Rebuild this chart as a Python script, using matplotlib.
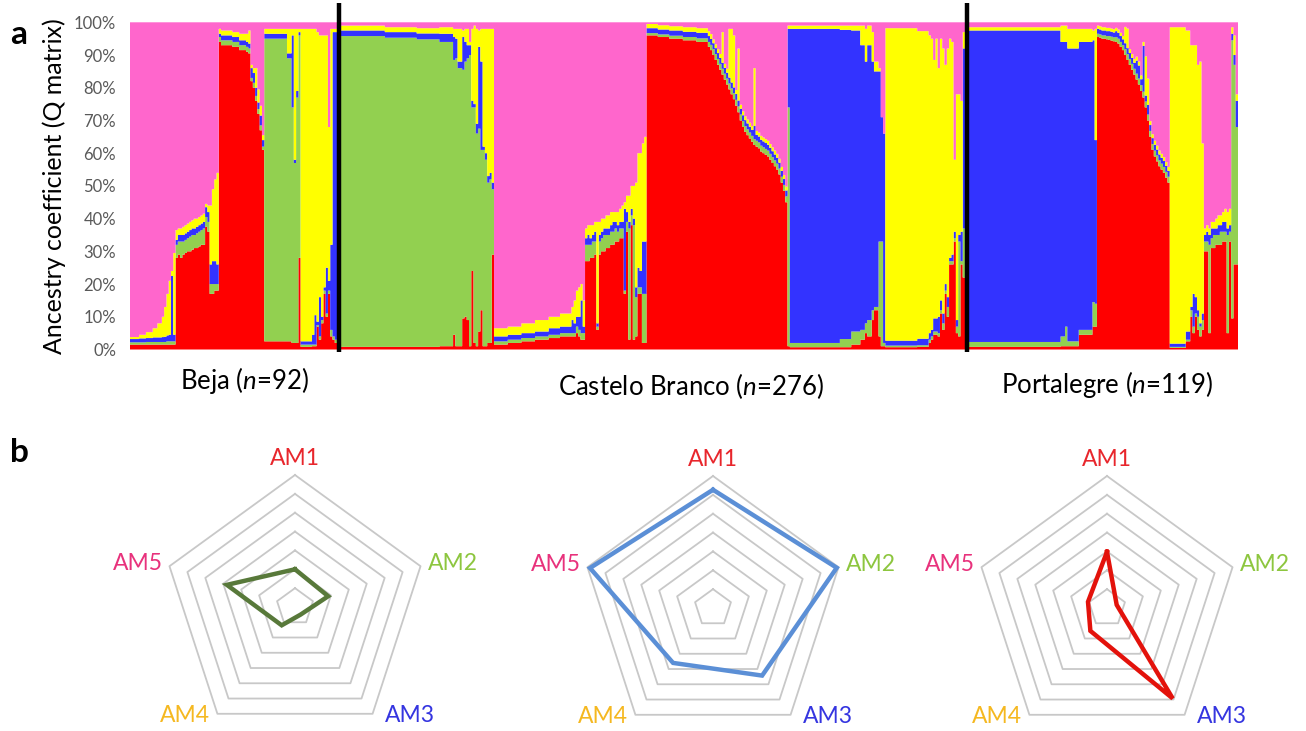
import numpy as np
import matplotlib.pyplot as plt

plt.rcParams['font.family'] = ['Lato', 'DejaVu Sans']
plt.rcParams['mathtext.fontset'] = 'custom'
plt.rcParams['mathtext.rm'] = 'Lato'
plt.rcParams['mathtext.it'] = 'Lato:italic'

# ancestry runs per population: (count, AM1, AM2, AM3, AM4) in %, AM5 = the rest
beja = [
    (4, 1.5, 0.7, 1.0, 0.6), (3, 1.5, 0.7, 1.2, 1.1), (3, 1.5, 0.8, 1.2, 1.8),
    (2, 1.5, 0.8, 1.4, 2.8), (2, 1.5, 0.8, 1.4, 4.3), (1, 1.5, 0.8, 1.5, 6.2),
    (1, 1.5, 0.8, 1.6, 9.1), (1, 1.5, 1.0, 1.8, 12.7), (1, 1.5, 1.0, 2.0, 16.5),
    (1, 1.5, 1.0, 20.0, 1.5), (1, 1.5, 1.0, 2.0, 25.0),
    (1, 28, 4, 1.5, 3), (1, 29, 4, 2, 2), (1, 28, 5, 2, 2), (1, 29, 4, 2, 2.5),
    (1, 29.5, 4, 2, 2.5), (1, 30, 4, 2, 2.5), (1, 30, 4.5, 2, 2.5), (1, 30.5, 4.5, 2, 2.5),
    (1, 31, 4, 2, 3), (1, 31, 4.5, 2, 2.5), (1, 31.5, 4.5, 2, 2.5), (1, 32, 4.5, 2, 2.5),
    (1, 32, 5, 2, 2.5), (1, 37.5, 3, 3, 1), (1, 36, 3, 3, 2),
    (1, 17, 3, 6, 18), (1, 17, 3, 7, 22), (1, 18, 2, 7, 25), (1, 18, 2, 6, 28),
    (1, 94, 1.5, 1, 1.5), (5, 93, 1.5, 1.5, 1.5), (3, 92.5, 1.5, 1.5, 1.5),
    (3, 91.5, 1.5, 1.5, 2), (1, 91, 1.5, 1.5, 2.5), (1, 90.5, 1.5, 1.5, 4),
    (1, 82, 1, 3, 1), (1, 80, 1.5, 3, 1.5), (1, 76, 1.5, 2.5, 6), (1, 72, 1.5, 2, 4),
    (1, 67, 1.5, 3, 3), (1, 61, 1, 2, 1.5),
    (10, 2.5, 92.5, 1.5, 1.5), (2, 2.5, 86.5, 1.5, 7.5), (1, 2, 72, 22, 2),
    (1, 2, 55, 1, 40), (1, 2, 75, 2, 19), (1, 28, 68, 1, 1),
    (5, 0.8, 0.7, 1, 95.5), (1, 1, 0.5, 3, 93.5), (1, 1, 0.5, 9, 87.5), (1, 7, 0.5, 1, 88.5),
    (1, 3, 1, 12, 80), (1, 8, 1, 1, 86), (1, 17, 1, 1, 77), (1, 10, 1, 14, 71),
    (1, 17, 1, 3, 47),
    (1, 4, 2, 26, 66), (1, 3, 1, 93, 1), (1, 2, 1, 94, 1), (1, 2, 2, 93, 1),
]

castelo = [
    (20, 0.8, 95.0, 1.7, 1.5), (14, 0.8, 94.5, 1.7, 1.5), (10, 0.8, 94.0, 1.8, 1.6),
    (6, 1, 93, 2.5, 2),
    (1, 4.5, 84, 7, 2.5), (1, 1, 88, 6, 3), (1, 1, 85, 2, 10), (1, 1, 85, 2, 10),
    (1, 9.5, 76, 10, 2), (1, 10, 78, 6, 4), (1, 9, 80, 4, 5), (1, 1, 89, 3, 1),
    (1, 24, 50, 2, 22), (1, 2, 72, 1, 24), (1, 1, 65, 3, 29), (1, 5.5, 62, 25, 5),
    (1, 12, 49, 27, 10), (1, 1, 60, 1, 36), (1, 1, 57, 2, 38), (1, 2, 49, 2, 45),
    (1, 2, 50, 2, 44), (1, 29, 20, 2, 47),
    (6, 1.5, 1, 1.5, 2.5), (6, 2, 1, 1.5, 2.5), (6, 2.5, 1, 1.5, 3),
    (6, 3, 1, 1.5, 3.5), (5, 3.5, 1, 2, 3.5), (5, 4, 1, 2, 4),
    (1, 4, 1, 4, 4), (1, 4, 1, 3, 7), (1, 5, 2, 3, 8), (1, 4, 2, 4, 9),
    (1, 3, 2, 10, 5), (1, 3, 2, 2, 8),
    (1, 27, 5, 2, 3), (1, 27, 5, 3, 3), (1, 28, 4, 2, 4), (1, 28, 5, 2, 3),
    (1, 29, 4, 3, 3), (1, 6, 1, 1, 31), (1, 29, 4, 2, 4), (1, 30, 4, 2, 4),
    (1, 30, 5, 2, 3), (1, 31, 4, 2, 4), (1, 31, 4, 2, 4), (1, 32, 4, 2, 4),
    (1, 32, 4, 3, 3), (1, 33, 4, 2, 3), (1, 33, 3, 2, 4), (1, 34, 3, 2, 4),
    (1, 34, 3, 2, 5),
    (1, 17, 1, 25, 2), (1, 36, 3, 3, 5), (1, 3, 34, 2, 8), (1, 38, 3, 2, 7),
    (1, 3, 35, 2, 10), (1, 4, 12, 3, 32), (1, 17, 2, 6, 35), (1, 17, 2, 5, 36),
    (1, 2, 15, 16, 30), (1, 2, 15, 16, 32),
    (5, 96, 0.7, 1.5, 1.3), (5, 95.5, 0.8, 1.5, 1.3), (6, 95, 0.9, 1.6, 1.3),
    (6, 94.5, 1, 1.6, 1.4), (5, 94, 1.1, 1.7, 1.4),
    (1, 92.5, 1.5, 1.8, 1.5), (1, 91.5, 1.6, 1.8, 1.5), (1, 90, 1.8, 1.8, 1.2),
    (1, 88.5, 1.8, 1.8, 1.2), (1, 87, 1.8, 1.8, 1.2), (1, 85.5, 1.8, 1.8, 1.2),
    (1, 84, 1.8, 1.8, 9.4), (1, 82.5, 1.8, 1.8, 1.2), (1, 81, 1.8, 1.8, 1.2),
    (1, 79.5, 1.8, 1.8, 14.9), (1, 78, 1.8, 1.8, 16.4), (1, 76.5, 1.8, 1.8, 15.9),
    (1, 74.5, 1.8, 1.8, 1.2), (1, 72.5, 1.8, 1.8, 15.9), (1, 70, 1.8, 1.8, 1.2),
    (1, 68, 1.8, 1.8, 1.2), (1, 66.5, 1.8, 1.8, 1.2), (1, 65.5, 1.8, 1.8, 1.2),
    (1, 64.5, 1.8, 1.8, 1.2), (1, 63.5, 1.8, 1.8, 1.2), (1, 62.5, 1.8, 4, 17.7),
    (1, 62, 1.8, 1.8, 1.2), (1, 61.5, 1.8, 1.8, 1.2), (1, 60.5, 1.8, 1.8, 1.2),
    (1, 60, 1.8, 1.8, 1.2), (1, 59.5, 1.8, 1.8, 1.2), (1, 59, 1.8, 1.8, 1.2),
    (1, 58, 1.8, 1.8, 1.2), (1, 57, 1.8, 1.8, 1.2), (1, 56, 1.8, 1.8, 1.2),
    (1, 55, 1.8, 1.8, 1.2), (1, 53.5, 1.8, 1.8, 1.2), (1, 51, 1.8, 1.8, 1.2),
    (1, 48.5, 1.8, 1.8, 1.2), (1, 45, 1.8, 1.8, 1.2),
    (1, 1, 73, 24, 1),
    (22, 0.7, 1.3, 96, 1), (5, 0.7, 2.5, 94.5, 1.3), (4, 1.5, 4, 92, 1.5),
    (2, 3, 3, 87, 6), (1, 5, 3, 80, 10), (2, 4, 5, 84, 6), (1, 9, 3, 76, 9),
    (2, 12, 1, 72, 3), (1, 4, 29, 52, 1), (1, 1, 32, 38, 0), (1, 1, 1, 64, 0),
    (14, 0.7, 0.5, 1.5, 95.5), (5, 0.8, 0.5, 2, 94), (1, 2, 1, 2, 91),
    (1, 3, 1, 2, 89), (1, 4.5, 1, 4, 79), (1, 4.5, 1, 4, 85.5), (1, 4, 1, 5, 76),
    (1, 11, 1, 3, 80), (1, 6, 2, 3, 81), (1, 17, 1, 2, 67), (1, 10, 3, 3, 76),
    (1, 26, 1, 1, 67), (1, 26, 1, 2, 65), (1, 33, 1, 2, 22), (1, 5, 2, 2, 69),
    (1, 4, 29, 2, 43), (1, 26, 1, 9, 40), (1, 22, 15, 55, 5), (1, 22, 13, 62, 1),
]

portalegre = [
    (41, 0.8, 1.5, 95.2, 1), (2, 1, 3, 90, 5), (1, 1, 6, 87, 5), (5, 1, 1.5, 89.5, 6),
    (6, 4.5, 1.5, 88, 4), (1, 7, 7.5, 80, 3), (1, 7, 7, 50, 34),
    (1, 95.5, 1, 1.5, 1), (1, 95.3, 1, 1.5, 1), (1, 95, 1, 1.5, 1), (1, 95, 1, 1.5, 1),
    (1, 94.8, 1, 1.5, 1), (1, 94.6, 1.2, 1.5, 1), (1, 94.4, 1.2, 1.5, 1), (1, 94.2, 1.2, 1.5, 1),
    (1, 94, 1.5, 1.8, 1), (1, 93.5, 1.5, 1.8, 1), (1, 92.5, 1.5, 1.8, 1), (1, 91.5, 1.5, 1.8, 1),
    (1, 90, 1.8, 1.8, 5), (1, 88.5, 1.8, 1.8, 6), (1, 87, 1.8, 1.8, 1.2), (1, 85.5, 1.8, 1.8, 1.2),
    (1, 84, 1.8, 1.8, 1.2), (1, 82.5, 1.8, 4, 1.2), (1, 81, 1.8, 4, 1.2), (1, 79, 1.8, 1.8, 1.2),
    (1, 77, 1.8, 14, 1.2), (1, 74, 1.8, 1.8, 12), (1, 70, 1.8, 3, 8), (1, 65, 1.8, 1.8, 1.2),
    (1, 61, 1.8, 1.8, 1.2), (1, 59, 1.8, 1.8, 1.2), (1, 57.5, 1.8, 1.8, 1.2), (1, 56, 1.8, 1.8, 1.2),
    (1, 55, 1.8, 1.8, 1.2), (1, 54, 1.8, 1.8, 1.2), (1, 52.5, 1.8, 1.8, 1.2), (1, 51, 1.8, 1.8, 1.2),
    (7, 0.5, 0.3, 1, 96.7), (2, 2.5, 0.5, 2.5, 92),
    (1, 10, 2, 1, 80), (1, 5, 2, 10, 76), (1, 10, 1, 5, 77), (1, 6, 4, 2, 75),
    (1, 4, 3, 1, 80), (1, 6, 3, 2, 52),
    (1, 30, 3, 2, 2), (1, 30, 3, 3, 2), (1, 5, 27, 3, 2), (1, 31, 3, 3, 2),
    (1, 31, 4, 2, 2), (1, 32, 3, 2, 3), (1, 32, 3, 3, 3), (1, 32, 4, 2, 3),
    (1, 33, 3, 3, 3), (1, 33, 3, 3, 4), (1, 5, 30, 2, 5), (1, 33, 3, 2, 5),
    (1, 9.5, 85, 2, 2), (1, 26, 61, 3, 6), (1, 26, 42, 8, 2),
]

pop_names = ['Beja', 'Castelo Branco', 'Portalegre']
pop_sizes = [92, 276, 119]
cluster_colors = ['#FF0000', '#92D050', '#3333FF', '#FFFF00', '#FF66CC']

# radar panel b: values on a 0-7 ring scale, order AM1..AM5
radar_labels = ['AM1', 'AM2', 'AM3', 'AM4', 'AM5']
radar_label_colors = ['#E8262C', '#8DC63F', '#3535E0', '#F5B820', '#E8327C']
radar_left = [2.0, 1.85, 0.5, 1.2, 3.8]
radar_mid = [6.27, 6.9, 4.43, 3.6, 6.86]
radar_right = [2.98, 0.54, 5.93, 1.5, 1.06]
radar_line_colors = ['#58793A', '#5B8FD6', '#E3120B']


def expand(runs):
    rows = []
    for run in runs:
        for k in range(run[0]):
            rows.append(list(run[1:]))
    return rows


q = np.array(expand(beja) + expand(castelo) + expand(portalegre), dtype=float)
pink = 100 - q.sum(axis=1)
q = np.column_stack([q, pink])
n = len(q)

fig = plt.figure(figsize=(13.06, 7.31), dpi=100)

# ---- panel a
ax = fig.add_axes([130 / 1306, 1 - 349.5 / 731, 1108 / 1306, 327.2 / 731])
edges = np.arange(n + 1)
bottom = np.zeros(n)
for k in range(5):
    ax.stairs(bottom + q[:, k], edges, baseline=bottom, fill=True,
              color=cluster_colors[k], linewidth=0)
    bottom = bottom + q[:, k]
ax.set_xlim(0, n)
ax.set_ylim(0, 100)
ax.set_xticks([])
ax.set_yticks(np.arange(0, 101, 10))
ax.set_yticklabels(['%d%%' % v for v in range(0, 101, 10)], color='#595959', fontsize=12)
ax.tick_params(axis='y', length=0, pad=10)
for s in ax.spines.values():
    s.set_visible(False)
ax.set_ylabel('Ancestry coefficient (Q matrix)', fontsize=18, labelpad=6)

cuts = np.cumsum(pop_sizes)
for c in cuts[:-1]:
    ax.plot([c, c], [-0.8, 106], color='black', lw=3.2, clip_on=False, solid_capstyle='butt')

label_x = [244, 691, 1107]
label_y = [380, 386, 385]
for i in range(3):
    fig.text(label_x[i] / 1306, 1 - label_y[i] / 731,
             '%s ($n$=%d)' % (pop_names[i], pop_sizes[i]),
             ha='center', va='center', fontsize=18.5)

fig.text(10 / 1306, 1 - 35 / 731, 'a', fontsize=24, fontweight='bold', va='center')
fig.text(10 / 1306, 1 - 452 / 731, 'b', fontsize=24, fontweight='bold', va='center')

# ---- panel b
angles = np.deg2rad([90, 18, -54, -126, 162])
centers = [(295, 607), (713, 608), (1107, 608)]
R = 132.0
half = 170.0
lim = half / R * 7
# label anchor (x, y) in ring units relative to the centre
lab_pos = [(0, 7.9, 'center'), (7.05, 2.33, 'left'), (4.75, -5.73, 'left'),
           (-4.5, -5.73, 'right'), (-7.0, 2.33, 'right')]
for vals, lc, (cx, cy) in zip([radar_left, radar_mid, radar_right], radar_line_colors, centers):
    rax = fig.add_axes([(cx - half) / 1306, 1 - (cy + half) / 731, 2 * half / 1306, 2 * half / 731])
    rax.set_xlim(-lim, lim)
    rax.set_ylim(-lim, lim)
    rax.axis('off')
    for ring in range(1, 8):
        xs = ring * np.cos(np.append(angles, angles[0]))
        ys = ring * np.sin(np.append(angles, angles[0]))
        rax.plot(xs, ys, color='#C8C8C8', lw=1.3)
    v = np.array(vals + [vals[0]])
    a = np.append(angles, angles[0])
    rax.plot(v * np.cos(a), v * np.sin(a), color=lc, lw=3.2, solid_joinstyle='miter')
    for j in range(5):
        tx, ty, ha = lab_pos[j]
        rax.text(tx, ty, radar_labels[j], color=radar_label_colors[j], fontsize=16.5,
                 ha=ha, va='center', clip_on=False)

fig.savefig('out.png', dpi=100)
